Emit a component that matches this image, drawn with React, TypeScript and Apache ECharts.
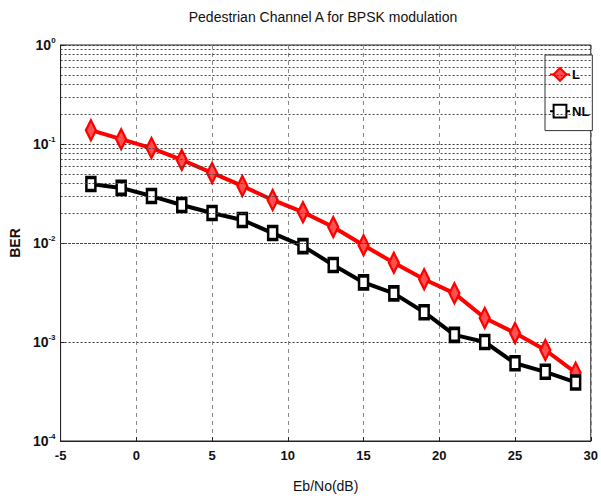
import React, { useEffect, useRef } from "react";
import * as echarts from "echarts";

const ebno = [-3, -1, 1, 3, 5, 7, 9, 11, 13, 15, 17, 19, 21, 23, 25, 27, 29];
const berL = [0.138, 0.112, 0.091, 0.069, 0.051, 0.0377, 0.0272, 0.0205, 0.0145, 0.0095, 0.0063, 0.0043, 0.0031, 0.00175, 0.00123, 0.00083, 0.00049];
const berNL = [0.0394, 0.036, 0.0298, 0.0242, 0.0201, 0.0171, 0.0126, 0.0093, 0.006, 0.004, 0.0031, 0.002, 0.00118, 0.001, 0.00061, 0.0005, 0.00039];
const minorMultipliers = [2, 3, 4, 5, 6, 7, 8, 9];
const decades = [-4, -3, -2, -1];
const titleText = "Pedestrian Channel A for BPSK modulation";

const FONT = "'Liberation Sans Narrow', 'Liberation Sans', Arial, sans-serif";

export default function App() {
  const ref = useRef<HTMLDivElement>(null);
  useEffect(() => {
    if (!ref.current) return;
    const chart = echarts.init(ref.current, null, { renderer: "svg" });
    const minorLines: any[] = [];
    decades.forEach((d) => {
      minorMultipliers.forEach((m) => {
        minorLines.push({ yAxis: m * Math.pow(10, d) });
      });
    });
    chart.setOption({
      animation: false,
      backgroundColor: "#fff",
      title: {
        text: titleText,
        left: 318,
        textAlign: "center",
        top: 5,
        textStyle: { fontFamily: FONT, fontSize: 14, fontWeight: "normal", color: "#111" },
      },
      legend: {
        orient: "vertical",
        left: 545,
        top: 55,
        padding: [12, 3, 12, 4],
        itemGap: 22,
        itemWidth: 20,
        itemHeight: 16,
        borderColor: "#333",
        borderWidth: 1,
        backgroundColor: "#fff",
        data: ["L", "NL"],
        textStyle: { fontFamily: FONT, fontSize: 13, fontWeight: "bold", color: "#000", padding: [0, 0, 0, -3] },
      },
      grid: {
        left: 43,
        right: 7,
        top: 45,
        bottom: 61,
        show: true,
        borderColor: "#222",
        borderWidth: 1,
        containLabel: false,
      },
      xAxis: {
        type: "value",
        min: -5,
        max: 30,
        interval: 5,
        name: "Eb/No(dB)",
        nameLocation: "middle",
        nameGap: 38,
        nameTextStyle: { fontFamily: FONT, fontSize: 14, color: "#111" },
        axisLine: { show: true, onZero: false, lineStyle: { color: "#222" } },
        axisTick: { show: true, inside: true, length: 4, lineStyle: { color: "#222" } },
        axisLabel: { fontFamily: FONT, fontSize: 13, fontWeight: "bold", color: "#111", margin: 8 },
        splitLine: { show: true, lineStyle: { color: "#888", type: [4, 4], width: 1 } },
      },
      yAxis: {
        type: "log",
        logBase: 10,
        min: 1e-4,
        max: 1,
        name: "BER",
        nameLocation: "middle",
        nameGap: 29,
        nameRotate: 90,
        nameTextStyle: { fontFamily: FONT, fontSize: 14, fontWeight: "bold", color: "#111" },
        axisLine: { show: true, onZero: false, lineStyle: { color: "#222" } },
        axisTick: { show: true, inside: true, length: 4, lineStyle: { color: "#222" } },
        axisLabel: {
          fontFamily: FONT,
          color: "#111",
          margin: 5,
          formatter: (v: number) => {
            const e = Math.round(Math.log10(v));
            return "{b|10}{s|" + e + "}";
          },
          rich: {
            b: { fontFamily: FONT, fontSize: 14, fontWeight: "bold", color: "#111" },
            s: { fontFamily: FONT, fontSize: 8, fontWeight: "bold", color: "#111", padding: [0, 0, 10, 0] },
          },
        },
        splitLine: { show: true, lineStyle: { color: "#333", type: [2, 2], width: 1 } },
      },
      series: [
        {
          name: "grid-minor",
          type: "line",
          data: [],
          silent: true,
          z: 1,
          markLine: {
            silent: true,
            symbol: "none",
            label: { show: false },
            lineStyle: { color: "#444", type: [2, 2], width: 1 },
            data: minorLines,
          },
        },
        {
          name: "L",
          type: "line",
          z: 3,
          data: ebno.map((x, i) => [x, berL[i]]),
          lineStyle: { color: "#ff0000", width: 4 },
          itemStyle: { color: "#ff5050", borderColor: "#ff0000", borderWidth: 2.5 },
          symbol: "diamond",
          symbolSize: [10, 20],
          showAllSymbol: true,
        },
        {
          name: "NL",
          type: "line",
          z: 4,
          data: ebno.map((x, i) => [x, berNL[i]]),
          lineStyle: { color: "#000", width: 4 },
          itemStyle: { color: "#fff", borderColor: "#000", borderWidth: 3 },
          symbol: "rect",
          symbolSize: [9, 13],
          showAllSymbol: true,
        },
      ],
    });
    return () => chart.dispose();
  }, []);
  return <div ref={ref} style={{ width: 601, height: 502, position: "absolute", left: 0, top: 0 }} />;
}
